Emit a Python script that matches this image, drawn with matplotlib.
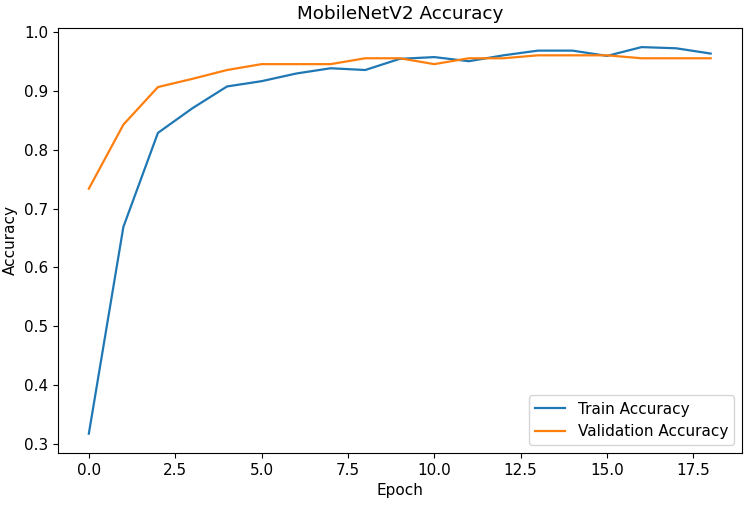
import matplotlib
matplotlib.use("Agg")
import matplotlib.pyplot as plt

# accuracy per epoch
epochs = list(range(19))
train_acc = [0.317, 0.669, 0.829, 0.871, 0.908, 0.917, 0.930, 0.939, 0.936, 0.955,
             0.958, 0.951, 0.961, 0.969, 0.969, 0.960, 0.975, 0.973, 0.964]
val_acc = [0.734, 0.843, 0.907, 0.921, 0.936, 0.946, 0.946, 0.946, 0.956, 0.956,
           0.946, 0.956, 0.956, 0.961, 0.961, 0.961, 0.956, 0.956, 0.956]

plt.rcParams['font.size'] = 11

fig = plt.figure(figsize=(7.5, 5.05), dpi=100)
plt.subplots_adjust(left=0.077, right=0.989, top=0.945, bottom=0.103)

#plot both curves
plt.plot(epochs, train_acc, label="Train Accuracy", linewidth=1.6)
plt.plot(epochs, val_acc, label="Validation Accuracy", linewidth=1.6)

plt.title("MobileNetV2 Accuracy")
plt.xlabel("Epoch")
plt.ylabel("Accuracy")
plt.legend(loc="lower right")

plt.savefig("out.png")
